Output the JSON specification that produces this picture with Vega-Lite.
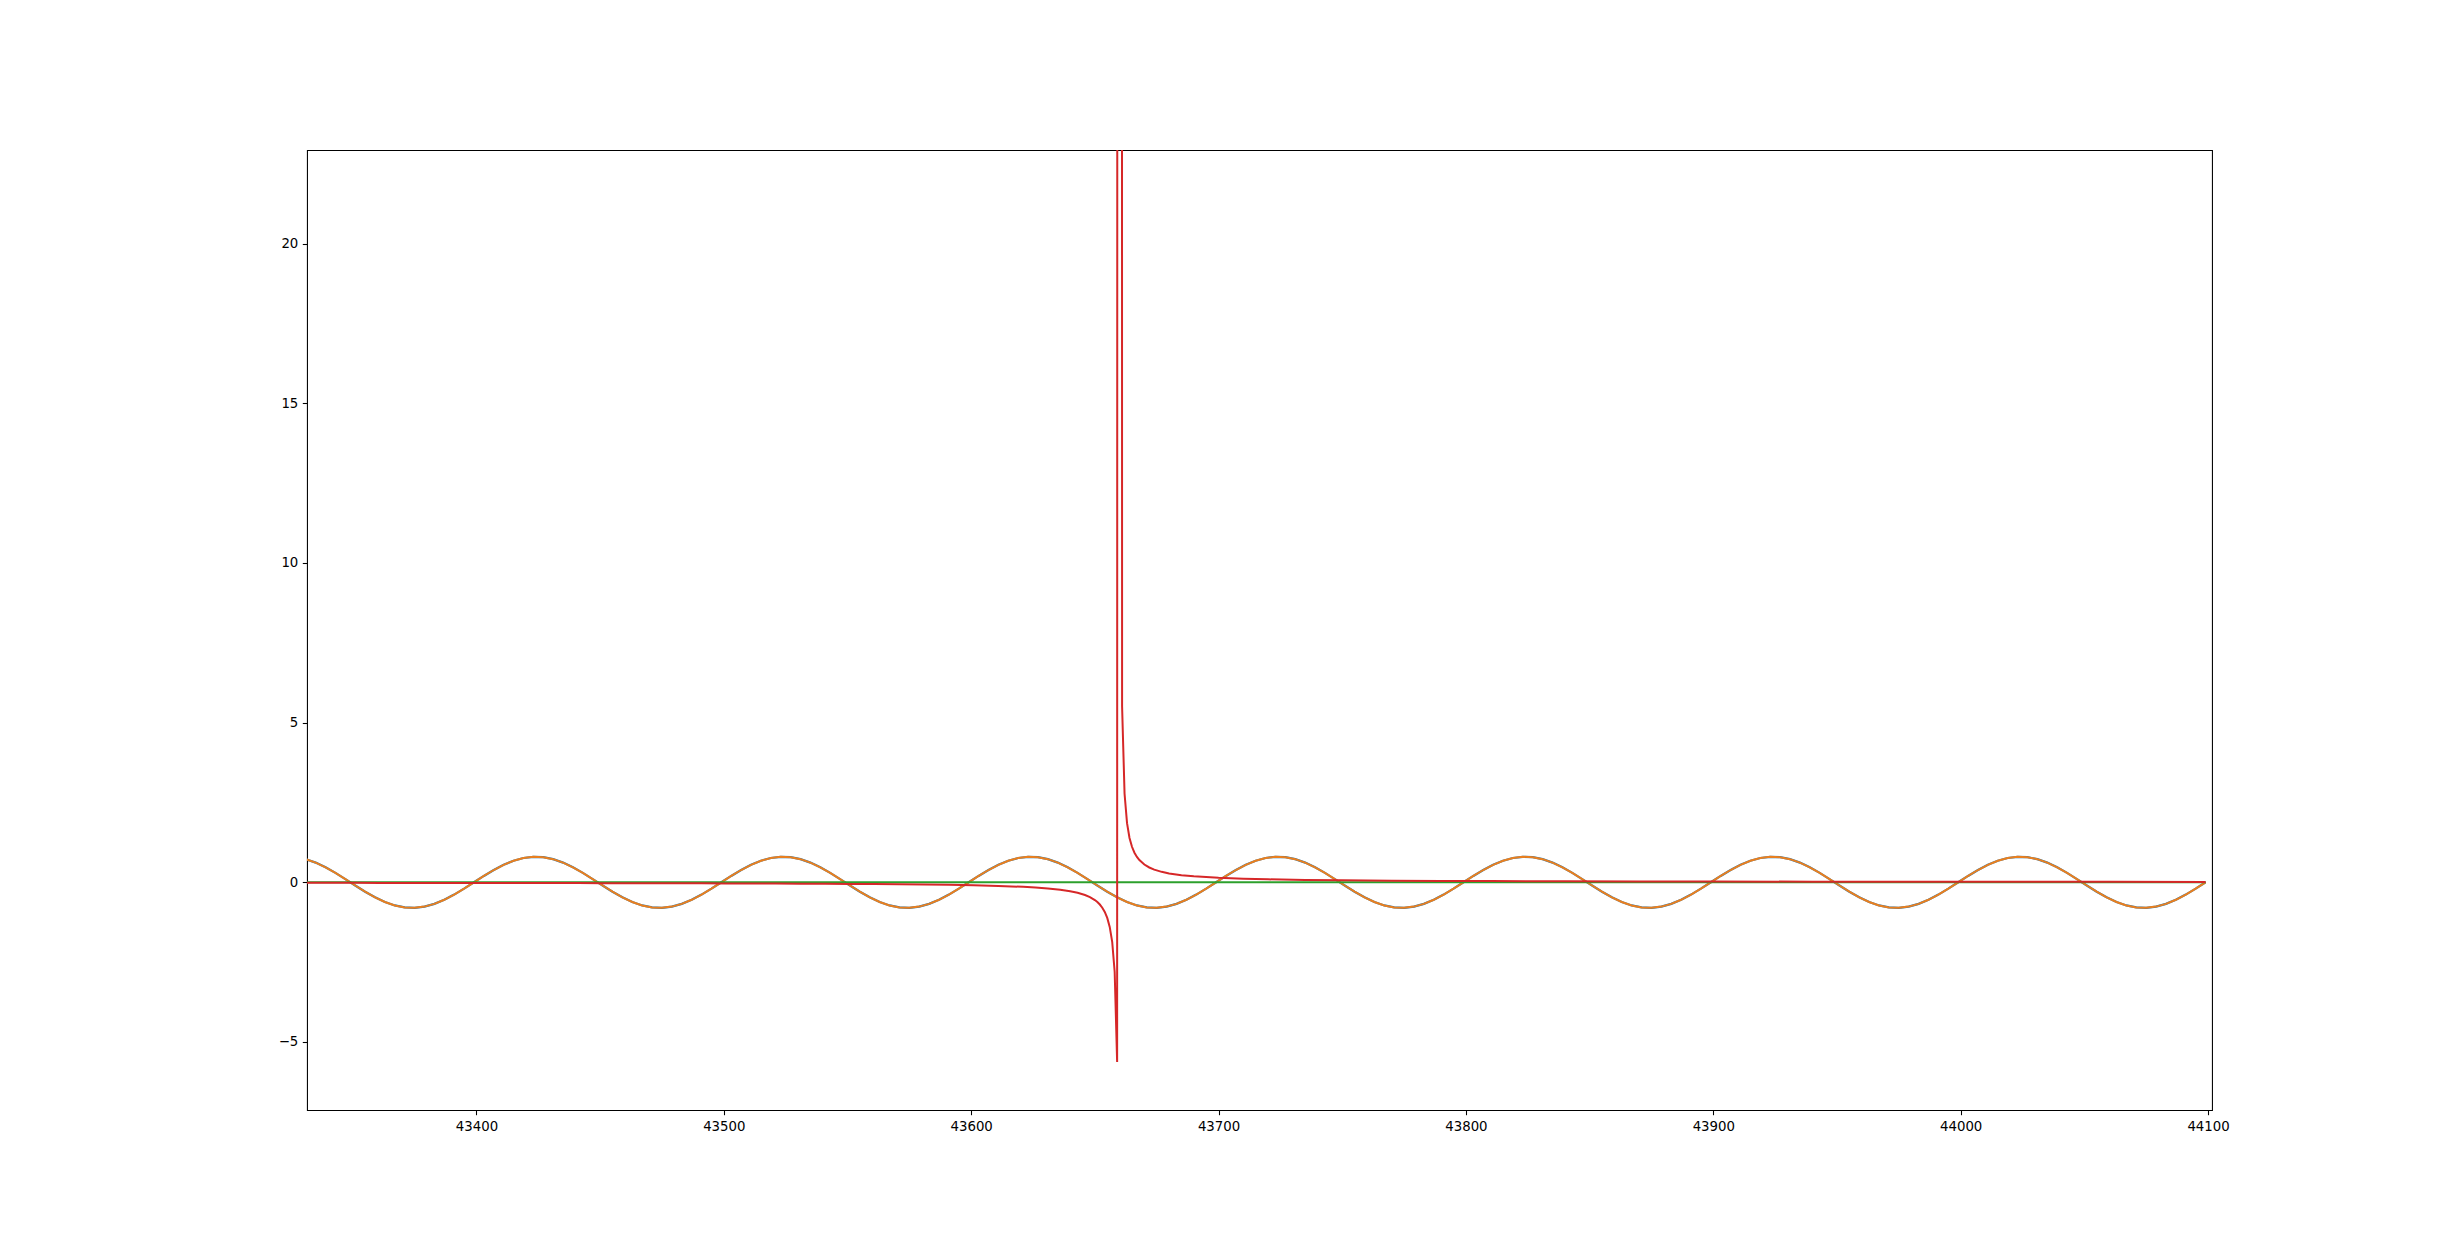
{
  "$schema": "https://vega.github.io/schema/vega-lite/v6.json",
  "width": 1905,
  "height": 960,
  "autosize": "none",
  "padding": {"left": 307, "top": 150, "right": 246, "bottom": 137},
  "background": "white",
  "config": {
    "view": {"stroke": "black", "strokeWidth": 1.07},
    "axis": {
      "grid": false,
      "domain": false,
      "tickColor": "black",
      "tickWidth": 1.07,
      "tickSize": 4.7,
      "labelFont": "DejaVu Sans",
      "labelFontSize": 13.3,
      "labelColor": "black",
      "labelPadding": 4.5,
      "title": null
    }
  },
  "datasets": {
    "sine": [
      {"x":43331,"y":0.724},{"x":43335,"y":0.616},{"x":43339,"y":0.47},{"x":43343,"y":0.294},{"x":43347,"y":0.1},{"x":43351,"y":-0.1},{"x":43355,"y":-0.294},{"x":43359,"y":-0.47},{"x":43363,"y":-0.616},{"x":43367,"y":-0.724},{"x":43371,"y":-0.786},{"x":43375,"y":-0.798},{"x":43379,"y":-0.761},{"x":43383,"y":-0.675},{"x":43387,"y":-0.548},{"x":43391,"y":-0.385},{"x":43395,"y":-0.199},{"x":43399,"y":0},{"x":43403,"y":0.199},{"x":43407,"y":0.385},{"x":43411,"y":0.548},{"x":43415,"y":0.675},{"x":43419,"y":0.761},{"x":43423,"y":0.798},{"x":43427,"y":0.786},
      {"x":43431,"y":0.724},{"x":43435,"y":0.616},{"x":43439,"y":0.47},{"x":43443,"y":0.294},{"x":43447,"y":0.1},{"x":43451,"y":-0.1},{"x":43455,"y":-0.294},{"x":43459,"y":-0.47},{"x":43463,"y":-0.616},{"x":43467,"y":-0.724},{"x":43471,"y":-0.786},{"x":43475,"y":-0.798},{"x":43479,"y":-0.761},{"x":43483,"y":-0.675},{"x":43487,"y":-0.548},{"x":43491,"y":-0.385},{"x":43495,"y":-0.199},{"x":43499,"y":0},{"x":43503,"y":0.199},{"x":43507,"y":0.385},{"x":43511,"y":0.548},{"x":43515,"y":0.675},{"x":43519,"y":0.761},{"x":43523,"y":0.798},{"x":43527,"y":0.786},
      {"x":43531,"y":0.724},{"x":43535,"y":0.616},{"x":43539,"y":0.47},{"x":43543,"y":0.294},{"x":43547,"y":0.1},{"x":43551,"y":-0.1},{"x":43555,"y":-0.294},{"x":43559,"y":-0.47},{"x":43563,"y":-0.616},{"x":43567,"y":-0.724},{"x":43571,"y":-0.786},{"x":43575,"y":-0.798},{"x":43579,"y":-0.761},{"x":43583,"y":-0.675},{"x":43587,"y":-0.548},{"x":43591,"y":-0.385},{"x":43595,"y":-0.199},{"x":43599,"y":0},{"x":43603,"y":0.199},{"x":43607,"y":0.385},{"x":43611,"y":0.548},{"x":43615,"y":0.675},{"x":43619,"y":0.761},{"x":43623,"y":0.798},{"x":43627,"y":0.786},
      {"x":43631,"y":0.724},{"x":43635,"y":0.616},{"x":43639,"y":0.47},{"x":43643,"y":0.294},{"x":43647,"y":0.1},{"x":43651,"y":-0.1},{"x":43655,"y":-0.294},{"x":43659,"y":-0.47},{"x":43663,"y":-0.616},{"x":43667,"y":-0.724},{"x":43671,"y":-0.786},{"x":43675,"y":-0.798},{"x":43679,"y":-0.761},{"x":43683,"y":-0.675},{"x":43687,"y":-0.548},{"x":43691,"y":-0.385},{"x":43695,"y":-0.199},{"x":43699,"y":0},{"x":43703,"y":0.199},{"x":43707,"y":0.385},{"x":43711,"y":0.548},{"x":43715,"y":0.675},{"x":43719,"y":0.761},{"x":43723,"y":0.798},{"x":43727,"y":0.786},
      {"x":43731,"y":0.724},{"x":43735,"y":0.616},{"x":43739,"y":0.47},{"x":43743,"y":0.294},{"x":43747,"y":0.1},{"x":43751,"y":-0.1},{"x":43755,"y":-0.294},{"x":43759,"y":-0.47},{"x":43763,"y":-0.616},{"x":43767,"y":-0.724},{"x":43771,"y":-0.786},{"x":43775,"y":-0.798},{"x":43779,"y":-0.761},{"x":43783,"y":-0.675},{"x":43787,"y":-0.548},{"x":43791,"y":-0.385},{"x":43795,"y":-0.199},{"x":43799,"y":0},{"x":43803,"y":0.199},{"x":43807,"y":0.385},{"x":43811,"y":0.548},{"x":43815,"y":0.675},{"x":43819,"y":0.761},{"x":43823,"y":0.798},{"x":43827,"y":0.786},
      {"x":43831,"y":0.724},{"x":43835,"y":0.616},{"x":43839,"y":0.47},{"x":43843,"y":0.294},{"x":43847,"y":0.1},{"x":43851,"y":-0.1},{"x":43855,"y":-0.294},{"x":43859,"y":-0.47},{"x":43863,"y":-0.616},{"x":43867,"y":-0.724},{"x":43871,"y":-0.786},{"x":43875,"y":-0.798},{"x":43879,"y":-0.761},{"x":43883,"y":-0.675},{"x":43887,"y":-0.548},{"x":43891,"y":-0.385},{"x":43895,"y":-0.199},{"x":43899,"y":0},{"x":43903,"y":0.199},{"x":43907,"y":0.385},{"x":43911,"y":0.548},{"x":43915,"y":0.675},{"x":43919,"y":0.761},{"x":43923,"y":0.798},{"x":43927,"y":0.786},
      {"x":43931,"y":0.724},{"x":43935,"y":0.616},{"x":43939,"y":0.47},{"x":43943,"y":0.294},{"x":43947,"y":0.1},{"x":43951,"y":-0.1},{"x":43955,"y":-0.294},{"x":43959,"y":-0.47},{"x":43963,"y":-0.616},{"x":43967,"y":-0.724},{"x":43971,"y":-0.786},{"x":43975,"y":-0.798},{"x":43979,"y":-0.761},{"x":43983,"y":-0.675},{"x":43987,"y":-0.548},{"x":43991,"y":-0.385},{"x":43995,"y":-0.199},{"x":43999,"y":0},{"x":44003,"y":0.199},{"x":44007,"y":0.385},{"x":44011,"y":0.548},{"x":44015,"y":0.675},{"x":44019,"y":0.761},{"x":44023,"y":0.798},{"x":44027,"y":0.786},
      {"x":44031,"y":0.724},{"x":44035,"y":0.616},{"x":44039,"y":0.47},{"x":44043,"y":0.294},{"x":44047,"y":0.1},{"x":44051,"y":-0.1},{"x":44055,"y":-0.294},{"x":44059,"y":-0.47},{"x":44063,"y":-0.616},{"x":44067,"y":-0.724},{"x":44071,"y":-0.786},{"x":44075,"y":-0.798},{"x":44079,"y":-0.761},{"x":44083,"y":-0.675},{"x":44087,"y":-0.548},{"x":44091,"y":-0.385},{"x":44095,"y":-0.199},{"x":44099,"y":0}
    ],
    "zero": [
      {"x":43331,"y":0},{"x":44099,"y":0}
    ],
    "red": [
      {"x":43331,"y":-0.0169},{"x":43341,"y":-0.0175},{"x":43351,"y":-0.018},{"x":43361,"y":-0.0186},{"x":43371,"y":-0.0193},{"x":43381,"y":-0.02},{"x":43391,"y":-0.0207},{"x":43401,"y":-0.0215},{"x":43411,"y":-0.0224},{"x":43421,"y":-0.0233},{"x":43431,"y":-0.0243},{"x":43441,"y":-0.0254},{"x":43451,"y":-0.0267},{"x":43461,"y":-0.028},{"x":43471,"y":-0.0295},{"x":43481,"y":-0.0311},{"x":43491,"y":-0.033},{"x":43501,"y":-0.035},{"x":43511,"y":-0.0374},{"x":43521,"y":-0.0401},{"x":43531,"y":-0.0432},{"x":43541,"y":-0.0468},{"x":43551,"y":-0.0511},{"x":43561,"y":-0.0563},{"x":43571,"y":-0.0626},{"x":43581,"y":-0.0705},{"x":43591,"y":-0.0807},{"x":43601,"y":-0.0944},{"x":43611,"y":-0.1137},{"x":43621,"y":-0.1428},{"x":43626,"y":-0.1638},{"x":43631,"y":-0.1921},{"x":43636,"y":-0.2321},{"x":43640,"y":-0.2785},{"x":43643,"y":-0.3277},{"x":43646,"y":-0.3979},{"x":43648,"y":-0.4642},{"x":43650,"y":-0.557},{"x":43651,"y":-0.6189},{"x":43652,"y":-0.6963},{"x":43653,"y":-0.7957},{"x":43654,"y":-0.9283},{"x":43655,"y":-1.114},{"x":43656,"y":-1.396},{"x":43657,"y":-1.863},{"x":43658,"y":-2.799},{"x":43659,"y":-5.626},{"x":43660,"y":557},{"x":43661,"y":5.515},{"x":43662,"y":2.771},{"x":43663,"y":1.851},{"x":43664,"y":1.389},{"x":43665,"y":1.112},{"x":43666,"y":0.9268},{"x":43667,"y":0.7946},{"x":43668,"y":0.6954},{"x":43670,"y":0.5564},{"x":43672,"y":0.4638},{"x":43674,"y":0.3976},{"x":43677,"y":0.3275},{"x":43680,"y":0.2783},{"x":43685,"y":0.2227},{"x":43690,"y":0.1856},{"x":43700,"y":0.1392},{"x":43710,"y":0.1114},{"x":43720,"y":0.0928},{"x":43735,"y":0.0743},{"x":43750,"y":0.0619},{"x":43770,"y":0.0506},{"x":43790,"y":0.0428},{"x":43810,"y":0.0371},{"x":43840,"y":0.0309},{"x":43870,"y":0.0265},{"x":43900,"y":0.0232},{"x":43940,"y":0.0199},{"x":43980,"y":0.0174},{"x":44020,"y":0.0155},{"x":44060,"y":0.0139},{"x":44099,"y":0.0127}
    ]
  },
  "encoding": {
    "x": {
      "field": "x",
      "type": "quantitative",
      "scale": {"domain": [43331.5, 44101.6], "nice": false, "zero": false},
      "axis": {"values": [43400, 43500, 43600, 43700, 43800, 43900, 44000, 44100], "format": "d"}
    },
    "y": {
      "field": "y",
      "type": "quantitative",
      "scale": {"domain": [-7.13, 22.93], "nice": false, "zero": false},
      "axis": {"values": [-5, 0, 5, 10, 15, 20], "format": "d"}
    }
  },
  "layer": [
    {"data": {"name": "sine"}, "mark": {"type": "line", "clip": true, "color": "#1f77b4", "strokeWidth": 2.2}},
    {"data": {"name": "sine"}, "mark": {"type": "line", "clip": true, "color": "#ff7f0e", "strokeWidth": 2, "strokeOpacity": 0.9}},
    {"data": {"name": "zero"}, "mark": {"type": "line", "clip": true, "color": "#2ca02c", "strokeWidth": 2}},
    {"data": {"name": "red"}, "mark": {"type": "line", "clip": true, "color": "#d62728", "strokeWidth": 2}}
  ]
}
